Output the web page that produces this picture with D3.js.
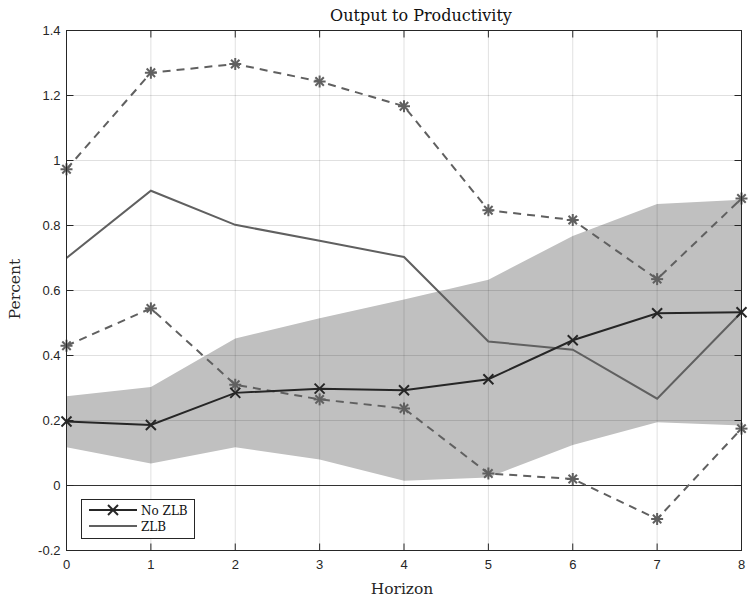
<!DOCTYPE html>
<html><head><meta charset="utf-8">
<script src="https://cdn.jsdelivr.net/npm/d3@7"></script>
<style>body{margin:0;background:#fff}svg{display:block}</style>
</head><body>
<svg id="c" width="748" height="602"></svg>
<script>
const horizon = [0,1,2,3,4,5,6,7,8];
const noZLB = [0.197,0.186,0.285,0.298,0.293,0.327,0.447,0.530,0.533];
const zlb = [0.700,0.907,0.802,0.753,0.703,0.443,0.418,0.267,0.533];
const zlbUpper = [0.973,1.270,1.297,1.243,1.167,0.847,0.817,0.635,0.883];
const zlbLower = [0.430,0.545,0.310,0.265,0.237,0.037,0.020,-0.103,0.175];
const bandUpper = [0.275,0.303,0.452,0.515,0.572,0.633,0.768,0.866,0.879];
const bandLower = [0.118,0.068,0.118,0.080,0.015,0.025,0.125,0.195,0.185];
const xTicks = [0,1,2,3,4,5,6,7,8];
const yTicks = [-0.2,0,0.2,0.4,0.6,0.8,1,1.2,1.4];
const yTickLabels = ["-0.2","0","0.2","0.4","0.6","0.8","1","1.2","1.4"];

const svg = d3.select("#c");
const L=66.5, R=741.5, T=30.5, B=550.5;
const x = d3.scaleLinear().domain([0,8]).range([L,R]);
const y = d3.scaleLinear().domain([-0.2,1.4]).range([B,T]);

// band
svg.append("path")
  .datum(horizon)
  .attr("d", d3.area().x(d=>x(d)).y0((d,i)=>y(bandLower[i])).y1((d,i)=>y(bandUpper[i])))
  .attr("fill","#c0c0c0");

// grid
const g = svg.append("g");
xTicks.forEach(t=>g.append("line").attr("x1",x(t)).attr("x2",x(t)).attr("y1",T).attr("y2",B)
  .attr("stroke","#000").attr("stroke-opacity",0.12).attr("stroke-width",1));
yTicks.forEach(t=>g.append("line").attr("x1",L).attr("x2",R).attr("y1",y(t)).attr("y2",y(t))
  .attr("stroke","#000").attr("stroke-opacity",0.12).attr("stroke-width",1));

// zero line
svg.append("line").attr("x1",L).attr("x2",R).attr("y1",y(0)).attr("y2",y(0))
  .attr("stroke","#333").attr("stroke-width",1);

const line = arr => d3.line().x((d,i)=>x(horizon[i])).y(d=>y(d))(arr);

// dashed bounds
[zlbUpper, zlbLower].forEach(arr=>{
  svg.append("path").attr("d",line(arr)).attr("fill","none")
    .attr("stroke","#606060").attr("stroke-width",2).attr("stroke-dasharray","8,6");
});
// ZLB line
svg.append("path").attr("d",line(zlb)).attr("fill","none").attr("stroke","#606060").attr("stroke-width",2);
// No ZLB
svg.append("path").attr("d",line(noZLB)).attr("fill","none").attr("stroke","#262626").attr("stroke-width",2);

// asterisk markers
function asterisk(cx,cy,r,col){
  const gg = svg.append("g").attr("stroke",col).attr("stroke-width",2);
  [[r,0],[0,r],[r*0.7,r*0.7],[r*0.7,-r*0.7]].forEach(([dx,dy])=>
    gg.append("line").attr("x1",cx-dx).attr("x2",cx+dx).attr("y1",cy-dy).attr("y2",cy+dy));
}
function cross(cx,cy,r,col){
  const gg = svg.append("g").attr("stroke",col).attr("stroke-width",2);
  gg.append("line").attr("x1",cx-r).attr("x2",cx+r).attr("y1",cy-r).attr("y2",cy+r);
  gg.append("line").attr("x1",cx-r).attr("x2",cx+r).attr("y1",cy+r).attr("y2",cy-r);
}
[zlbUpper, zlbLower].forEach(arr=>arr.forEach((v,i)=>asterisk(x(horizon[i]),y(v),6,"#606060")));
noZLB.forEach((v,i)=>cross(x(horizon[i]),y(v),5,"#262626"));

// box
svg.append("rect").attr("x",L).attr("y",T).attr("width",R-L).attr("height",B-T)
  .attr("fill","none").attr("stroke","#262626").attr("stroke-width",1);

// ticks
const tk = svg.append("g").attr("stroke","#262626").attr("stroke-width",1);
xTicks.forEach(t=>{
  tk.append("line").attr("x1",x(t)).attr("x2",x(t)).attr("y1",B).attr("y2",B-7);
  tk.append("line").attr("x1",x(t)).attr("x2",x(t)).attr("y1",T).attr("y2",T+7);
});
yTicks.forEach(t=>{
  tk.append("line").attr("x1",L).attr("x2",L+7).attr("y1",y(t)).attr("y2",y(t));
  tk.append("line").attr("x1",R).attr("x2",R-7).attr("y1",y(t)).attr("y2",y(t));
});

const sans = "Liberation Sans, Arial, sans-serif";
const serif = "DejaVu Serif, serif";
xTicks.forEach(t=>svg.append("text").attr("x",x(t)).attr("y",B+18).attr("text-anchor","middle")
  .attr("font-family",sans).attr("font-size",13).attr("fill","#262626").text(String(t)));
yTicks.forEach((t,i)=>svg.append("text").attr("x",L-6).attr("y",y(t)+4.5).attr("text-anchor","end")
  .attr("font-family",sans).attr("font-size",13).attr("fill","#262626").text(yTickLabels[i]));

svg.append("text").attr("x",402).attr("y",594).attr("text-anchor","middle")
  .attr("font-family",serif).attr("font-size",15.5).attr("fill","#262626").text("Horizon");
svg.append("text").attr("transform",`translate(20,289) rotate(-90)`).attr("text-anchor","middle")
  .attr("font-family",serif).attr("font-size",15.5).attr("fill","#262626").text("Percent");
svg.append("text").attr("x",421).attr("y",20.5).attr("text-anchor","middle")
  .attr("font-family",serif).attr("font-size",16).attr("fill","#111").text("Output to Productivity");

// legend
const lg = svg.append("g");
lg.append("rect").attr("x",81.5).attr("y",499.5).attr("width",113).attr("height",39)
  .attr("fill","#fff").attr("stroke","#262626").attr("stroke-width",1);
lg.append("line").attr("x1",89).attr("x2",137).attr("y1",510).attr("y2",510).attr("stroke","#262626").attr("stroke-width",2);
cross(113,510,5,"#262626");
lg.append("line").attr("x1",89).attr("x2",137).attr("y1",526).attr("y2",526).attr("stroke","#606060").attr("stroke-width",2);
lg.append("text").attr("x",141).attr("y",514.5).attr("font-family",serif).attr("font-size",12).attr("fill","#111").text("No ZLB");
lg.append("text").attr("x",141).attr("y",530.5).attr("font-family",serif).attr("font-size",12).attr("fill","#111").text("ZLB");
</script>
</body></html>
